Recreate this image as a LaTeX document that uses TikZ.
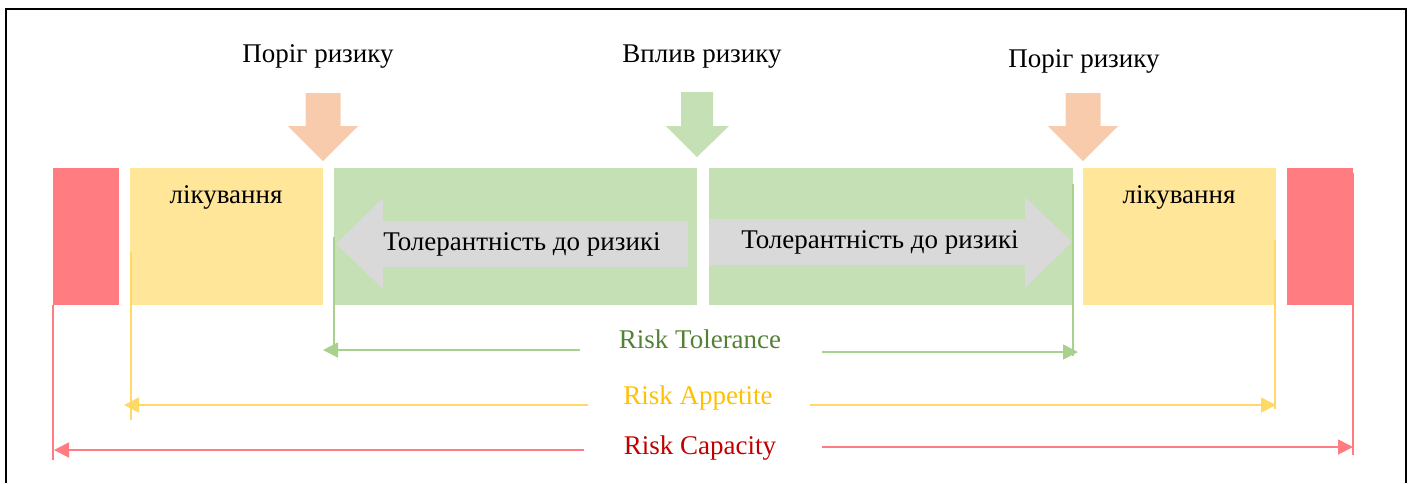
\documentclass[tikz,border=0pt]{standalone}
\usepackage{fontspec}
\setmainfont{Liberation Serif}
\usetikzlibrary{arrows.meta}

\definecolor{capred}{HTML}{FF7C80}
\definecolor{captext}{HTML}{C00000}
\definecolor{appblock}{HTML}{FFE699}
\definecolor{appline}{HTML}{FFD966}
\definecolor{apptext}{HTML}{FFC000}
\definecolor{tolblock}{HTML}{C5E0B4}
\definecolor{tolline}{HTML}{A9D18E}
\definecolor{toltext}{HTML}{538135}
\definecolor{threshold}{HTML}{F8CBAD}
\definecolor{greyarrow}{HTML}{D9D9D9}

\begin{document}
\begin{tikzpicture}[x=0.4pt,y=-0.4pt,font=\fontsize{10.8}{13}\selectfont,
  lbl/.style={anchor=base,inner sep=0pt},
  scalearrow/.style={line width=0.7pt,-{Triangle[length=6pt,width=6pt]}},
  tick/.style={line width=0.45pt}]

\useasboundingbox (0,0) rectangle (1413,483);

% Band limits
\def\BT{168}
\def\BB{305}

% Outer frame (open at the bottom)
\draw[line width=0.8pt] (6,483) -- (6,9) -- (1406,9) -- (1406,483);

% Colour band
\fill[capred] (53,\BT) rectangle (119,\BB);
\fill[appblock] (130,\BT) rectangle (323,\BB);
\fill[tolblock] (334,\BT) rectangle (697,\BB);
\fill[tolblock] (709,\BT) rectangle (1073,\BB);
\fill[appblock] (1083,\BT) rectangle (1276,\BB);
\fill[capred] (1287,\BT) rectangle (1353,\BB);

% Threshold arrows
\foreach \cx in {323,1083}
{\fill[threshold] (\cx-17.5,93) -- (\cx+17.5,93) -- (\cx+17.5,126) -- (\cx+35,126)
   -- (\cx,161) -- (\cx-35,126) -- (\cx-17.5,126) -- cycle;}

% Impact arrow
\fill[tolblock] (681,92) -- (713,92) -- (713,126) -- (729,126) -- (697,157)
   -- (666,126) -- (681,126) -- cycle;

% Tolerance arrows inside the band
\fill[greyarrow] (336,244) -- (383,198) -- (383,221) -- (688,221) -- (688,267)
   -- (383,267) -- (383,289) -- cycle;
\fill[greyarrow] (1072,242) -- (1025,197) -- (1025,219) -- (709,219) -- (709,265)
   -- (1025,265) -- (1025,288) -- cycle;

% Labels
\node[lbl] (thrL) at (318,62) {Поріг ризику};
\node[lbl] (impact) at (702,62) {Вплив ризику};
\node[lbl] (thrR) at (1084,67) {Поріг ризику};
\node[lbl] (treatL) at (226,203) {лікування};
\node[lbl] (treatR) at (1179,203) {лікування};
\node[lbl] (tolL) at (522,250) {Толерантність до ризикі};
\node[lbl] (tolR) at (880,248) {Толерантність до ризикі};

% Scale ticks
\draw[tick,tolline] (334,237) -- (334,352);
\draw[tick,tolline] (1073,184) -- (1073,356);
\draw[tick,appline] (131,252) -- (131,420);
\draw[tick,appline] (1275,240) -- (1275,409);
\draw[tick,capred] (53,305) -- (53,460);
\draw[tick,capred] (1353,173) -- (1353,455);

% Scales
\node[lbl,text=toltext] (tolerance) at (700,348) {Risk Tolerance};
\node[lbl,text=apptext] (appetite) at (698,404) {Risk Appetite};
\node[lbl,text=captext] (capacity) at (700,454) {Risk Capacity};

\coordinate (tolA) at (580,350);  \coordinate (tolEndL) at (323,350);
\coordinate (tolB) at (822,352);  \coordinate (tolEndR) at (1078,352);
\coordinate (appA) at (588,405);  \coordinate (appEndL) at (124,405);
\coordinate (appB) at (810,405);  \coordinate (appEndR) at (1276,405);
\coordinate (capA) at (584,450);  \coordinate (capEndL) at (54,450);
\coordinate (capB) at (822,447);  \coordinate (capEndR) at (1353,447);

\draw[scalearrow,tolline] (tolA) -- (tolEndL);
\draw[scalearrow,tolline] (tolB) -- (tolEndR);
\draw[scalearrow,appline] (appA) -- (appEndL);
\draw[scalearrow,appline] (appB) -- (appEndR);
\draw[scalearrow,capred] (capA) -- (capEndL);
\draw[scalearrow,capred] (capB) -- (capEndR);

\end{tikzpicture}
\end{document}
